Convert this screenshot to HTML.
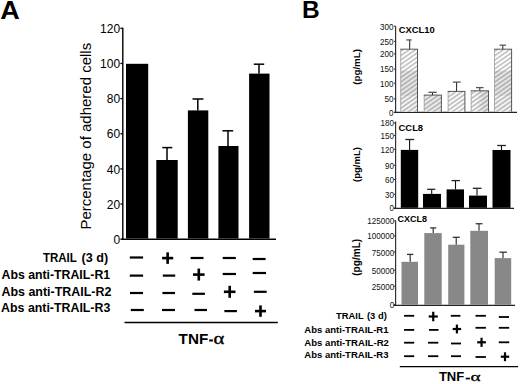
<!DOCTYPE html>
<html><head><meta charset="utf-8"><style>
html,body{margin:0;padding:0;background:#fff;}
svg{display:block;font-family:"Liberation Sans", sans-serif;}
</style></head><body>
<svg width="520" height="384" viewBox="0 0 520 384">
<defs><pattern id="hatch" patternUnits="userSpaceOnUse" width="3.6" height="3.6" patternTransform="rotate(55)"><line x1="1.8" y1="0" x2="1.8" y2="3.6" stroke="#505050" stroke-width="0.6"/></pattern><linearGradient id="g4" x1="0" x2="1" y1="0" y2="0"><stop offset="0.3" stop-color="#fafafa"/><stop offset="0.7" stop-color="#e4e4e4"/></linearGradient></defs>
<rect width="520" height="384" fill="#fff"/>
<line x1="122.8" y1="27.8" x2="122.8" y2="239.9" stroke="#000" stroke-width="1.4"/>
<line x1="120.4" y1="28.3" x2="122.8" y2="28.3" stroke="#000" stroke-width="1.3"/>
<line x1="120.4" y1="63.45" x2="122.8" y2="63.45" stroke="#000" stroke-width="1.3"/>
<line x1="120.4" y1="98.6" x2="122.8" y2="98.6" stroke="#000" stroke-width="1.3"/>
<line x1="120.4" y1="133.75" x2="122.8" y2="133.75" stroke="#000" stroke-width="1.3"/>
<line x1="120.4" y1="168.9" x2="122.8" y2="168.9" stroke="#000" stroke-width="1.3"/>
<line x1="120.4" y1="204.05" x2="122.8" y2="204.05" stroke="#000" stroke-width="1.3"/>
<line x1="120.4" y1="239.2" x2="122.8" y2="239.2" stroke="#000" stroke-width="1.3"/>
<line x1="121.5" y1="239.2" x2="276" y2="239.2" stroke="#000" stroke-width="1.4"/>
<rect x="126" y="63.8" width="22.2" height="174.7" fill="#000" />
<rect x="156.3" y="160" width="21.4" height="78.5" fill="#000" />
<line x1="167" y1="147.6" x2="167" y2="160" stroke="#000" stroke-width="1.5"/>
<line x1="162.3" y1="147.6" x2="172.3" y2="147.6" stroke="#000" stroke-width="1.5"/>
<rect x="187.9" y="110.4" width="20.4" height="128.1" fill="#000" />
<line x1="197.8" y1="99" x2="197.8" y2="110.4" stroke="#000" stroke-width="1.5"/>
<line x1="192.5" y1="99" x2="203.4" y2="99" stroke="#000" stroke-width="1.5"/>
<rect x="218.4" y="146" width="20.1" height="92.5" fill="#000" />
<line x1="228" y1="130.8" x2="228" y2="146" stroke="#000" stroke-width="1.5"/>
<line x1="222.4" y1="130.8" x2="233.2" y2="130.8" stroke="#000" stroke-width="1.5"/>
<rect x="249.1" y="73.6" width="20.4" height="164.9" fill="#000" />
<line x1="259" y1="64.2" x2="259" y2="73.6" stroke="#000" stroke-width="1.5"/>
<line x1="253.8" y1="64.2" x2="264.2" y2="64.2" stroke="#000" stroke-width="1.5"/>
<rect x="129.8" y="256.4" width="13.3" height="2.2" fill="#000" />
<rect x="162.1" y="256.8" width="11.1" height="2.6" fill="#000" />
<rect x="166.34999999999997" y="252.35000000000002" width="2.6" height="11.5" fill="#000" />
<rect x="190.6" y="256.9" width="12.9" height="2.2" fill="#000" />
<rect x="222.7" y="256.9" width="13.1" height="2.2" fill="#000" />
<rect x="252.7" y="257.9" width="12.9" height="2.2" fill="#000" />
<rect x="129.8" y="274.5" width="13.3" height="2.2" fill="#000" />
<rect x="162.8" y="274.5" width="12.4" height="2.2" fill="#000" />
<rect x="193" y="273.3" width="11.6" height="2.6" fill="#000" />
<rect x="197.5" y="268.6" width="2.6" height="12.0" fill="#000" />
<rect x="222.7" y="272.9" width="13.3" height="2.2" fill="#000" />
<rect x="252.7" y="271.9" width="13.3" height="2.2" fill="#000" />
<rect x="130" y="291.9" width="13" height="2.2" fill="#000" />
<rect x="162.4" y="291.9" width="12.6" height="2.2" fill="#000" />
<rect x="192.3" y="292.7" width="12.6" height="2.2" fill="#000" />
<rect x="223.9" y="290.5" width="11.6" height="2.6" fill="#000" />
<rect x="228.39999999999998" y="285.8" width="2.6" height="12.0" fill="#000" />
<rect x="253.9" y="290.7" width="12.8" height="2.2" fill="#000" />
<rect x="130.8" y="308.9" width="13.0" height="2.2" fill="#000" />
<rect x="162" y="308.9" width="13" height="2.2" fill="#000" />
<rect x="194.5" y="308.9" width="12.5" height="2.2" fill="#000" />
<rect x="224.4" y="310.0" width="12.5" height="2.2" fill="#000" />
<rect x="255" y="309.8" width="11" height="2.6" fill="#000" />
<rect x="259.2" y="305.40000000000003" width="2.6" height="11.4" fill="#000" />
<line x1="124.5" y1="322.5" x2="277.8" y2="322.5" stroke="#000" stroke-width="1.4"/>
<line x1="395.6" y1="26.2" x2="395.6" y2="112.6" stroke="#333" stroke-width="1.2"/>
<line x1="393.9" y1="26.2" x2="395.6" y2="26.2" stroke="#333" stroke-width="1.1"/>
<line x1="393.9" y1="41.4" x2="395.6" y2="41.4" stroke="#333" stroke-width="1.1"/>
<line x1="393.9" y1="53.9" x2="395.6" y2="53.9" stroke="#333" stroke-width="1.1"/>
<line x1="393.9" y1="69.1" x2="395.6" y2="69.1" stroke="#333" stroke-width="1.1"/>
<line x1="393.9" y1="83.2" x2="395.6" y2="83.2" stroke="#333" stroke-width="1.1"/>
<line x1="393.9" y1="98.8" x2="395.6" y2="98.8" stroke="#333" stroke-width="1.1"/>
<line x1="393.9" y1="112.39999999999999" x2="395.6" y2="112.39999999999999" stroke="#333" stroke-width="1.1"/>
<line x1="394" y1="112.3" x2="517" y2="112.3" stroke="#222" stroke-width="1.2"/>
<line x1="409.7" y1="39.9" x2="409.7" y2="49.2" stroke="#222" stroke-width="1.0"/>
<line x1="406.3" y1="39.9" x2="411.7" y2="39.9" stroke="#555" stroke-width="1.3"/>
<rect x="400.7" y="49.2" width="16.8" height="21.4" fill="#fff" />
<rect x="400.7" y="70.6" width="16.8" height="25.4" fill="#e6e6e6" />
<rect x="400.7" y="96" width="16.8" height="15.7" fill="#f4f4f4" />
<rect x="400.7" y="49.2" width="16.8" height="62.5" fill="url(#hatch)" />
<line x1="400.7" y1="49.2" x2="400.7" y2="111.7" stroke="#999" stroke-width="0.8"/>
<line x1="400.3" y1="49.2" x2="417.9" y2="49.2" stroke="#444" stroke-width="0.9"/>
<line x1="417.5" y1="49.2" x2="417.5" y2="111.7" stroke="#444" stroke-width="0.9"/>
<line x1="432.5" y1="92.3" x2="432.5" y2="95.1" stroke="#222" stroke-width="1.0"/>
<line x1="428.4" y1="92.3" x2="436.7" y2="92.3" stroke="#555" stroke-width="1.3"/>
<rect x="424.2" y="95.1" width="17.2" height="16.6" fill="#ebebeb" />
<rect x="424.2" y="95.1" width="17.2" height="16.6" fill="url(#hatch)" />
<line x1="424.2" y1="95.1" x2="424.2" y2="111.7" stroke="#999" stroke-width="0.8"/>
<line x1="423.8" y1="95.1" x2="441.79999999999995" y2="95.1" stroke="#444" stroke-width="0.9"/>
<line x1="441.4" y1="95.1" x2="441.4" y2="111.7" stroke="#444" stroke-width="0.9"/>
<line x1="456.6" y1="82.1" x2="456.6" y2="91.4" stroke="#222" stroke-width="1.0"/>
<line x1="452.9" y1="82.1" x2="460.6" y2="82.1" stroke="#555" stroke-width="1.3"/>
<rect x="448.1" y="91.4" width="16.8" height="20.3" fill="#fbfbfb" />
<rect x="448.1" y="91.4" width="16.8" height="20.3" fill="url(#hatch)" />
<line x1="448.1" y1="91.4" x2="448.1" y2="111.7" stroke="#999" stroke-width="0.8"/>
<line x1="447.70000000000005" y1="91.4" x2="465.29999999999995" y2="91.4" stroke="#444" stroke-width="0.9"/>
<line x1="464.9" y1="91.4" x2="464.9" y2="111.7" stroke="#444" stroke-width="0.9"/>
<line x1="479.8" y1="87.6" x2="479.8" y2="90.8" stroke="#222" stroke-width="1.0"/>
<line x1="476" y1="87.6" x2="483.6" y2="87.6" stroke="#555" stroke-width="1.3"/>
<rect x="471.2" y="90.8" width="17.3" height="20.9" fill="url(#g4)" />
<rect x="471.2" y="90.8" width="17.3" height="20.9" fill="url(#hatch)" />
<line x1="471.2" y1="90.8" x2="471.2" y2="111.7" stroke="#999" stroke-width="0.8"/>
<line x1="470.8" y1="90.8" x2="488.9" y2="90.8" stroke="#444" stroke-width="0.9"/>
<line x1="488.5" y1="90.8" x2="488.5" y2="111.7" stroke="#444" stroke-width="0.9"/>
<line x1="502.8" y1="45.2" x2="502.8" y2="49.2" stroke="#222" stroke-width="1.0"/>
<line x1="499.6" y1="45.2" x2="506" y2="45.2" stroke="#555" stroke-width="1.3"/>
<rect x="494.5" y="49.2" width="17.1" height="21.4" fill="#fff" />
<rect x="494.5" y="70.6" width="17.1" height="25.4" fill="#e6e6e6" />
<rect x="494.5" y="96" width="17.1" height="15.7" fill="#f4f4f4" />
<rect x="494.5" y="49.2" width="17.1" height="62.5" fill="url(#hatch)" />
<line x1="494.5" y1="49.2" x2="494.5" y2="111.7" stroke="#999" stroke-width="0.8"/>
<line x1="494.1" y1="49.2" x2="512.0" y2="49.2" stroke="#444" stroke-width="0.9"/>
<line x1="511.6" y1="49.2" x2="511.6" y2="111.7" stroke="#444" stroke-width="0.9"/>
<line x1="395.6" y1="121.5" x2="395.6" y2="208.4" stroke="#333" stroke-width="1.2"/>
<line x1="393.9" y1="123.0" x2="395.6" y2="123.0" stroke="#333" stroke-width="1.1"/>
<line x1="393.9" y1="135.4" x2="395.6" y2="135.4" stroke="#333" stroke-width="1.1"/>
<line x1="393.9" y1="149.20000000000002" x2="395.6" y2="149.20000000000002" stroke="#333" stroke-width="1.1"/>
<line x1="393.9" y1="165.20000000000002" x2="395.6" y2="165.20000000000002" stroke="#333" stroke-width="1.1"/>
<line x1="393.9" y1="179.5" x2="395.6" y2="179.5" stroke="#333" stroke-width="1.1"/>
<line x1="393.9" y1="194.3" x2="395.6" y2="194.3" stroke="#333" stroke-width="1.1"/>
<line x1="393.9" y1="208.10000000000002" x2="395.6" y2="208.10000000000002" stroke="#333" stroke-width="1.1"/>
<line x1="394" y1="208.4" x2="514" y2="208.4" stroke="#222" stroke-width="1.2"/>
<rect x="400.8" y="149.9" width="17.4" height="57.9" fill="#000" />
<line x1="409.6" y1="139.5" x2="409.6" y2="149.9" stroke="#111" stroke-width="1.1"/>
<line x1="405.3" y1="139.5" x2="414.2" y2="139.5" stroke="#222" stroke-width="1.3"/>
<rect x="423" y="193.9" width="18" height="13.9" fill="#000" />
<line x1="431.7" y1="189.3" x2="431.7" y2="193.9" stroke="#111" stroke-width="1.1"/>
<line x1="427.2" y1="189.3" x2="435.3" y2="189.3" stroke="#222" stroke-width="1.3"/>
<rect x="446.6" y="189.4" width="17.4" height="18.4" fill="#000" />
<line x1="455.5" y1="180.6" x2="455.5" y2="189.4" stroke="#111" stroke-width="1.1"/>
<line x1="451.5" y1="180.6" x2="460" y2="180.6" stroke="#222" stroke-width="1.3"/>
<rect x="469" y="195.6" width="18" height="12.2" fill="#000" />
<line x1="477" y1="188.3" x2="477" y2="195.6" stroke="#111" stroke-width="1.1"/>
<line x1="472.8" y1="188.3" x2="481.5" y2="188.3" stroke="#222" stroke-width="1.3"/>
<rect x="492.5" y="150" width="18.0" height="57.8" fill="#000" />
<line x1="501.5" y1="145.5" x2="501.5" y2="150" stroke="#111" stroke-width="1.1"/>
<line x1="497.2" y1="145.5" x2="505.9" y2="145.5" stroke="#222" stroke-width="1.3"/>
<line x1="395.6" y1="220.5" x2="395.6" y2="305.3" stroke="#333" stroke-width="1.2"/>
<line x1="393.9" y1="220.9" x2="395.6" y2="220.9" stroke="#333" stroke-width="1.1"/>
<line x1="393.9" y1="235.79999999999998" x2="395.6" y2="235.79999999999998" stroke="#333" stroke-width="1.1"/>
<line x1="393.9" y1="252.0" x2="395.6" y2="252.0" stroke="#333" stroke-width="1.1"/>
<line x1="393.9" y1="270.20000000000005" x2="395.6" y2="270.20000000000005" stroke="#333" stroke-width="1.1"/>
<line x1="393.9" y1="286.20000000000005" x2="395.6" y2="286.20000000000005" stroke="#333" stroke-width="1.1"/>
<line x1="393.9" y1="304.6" x2="395.6" y2="304.6" stroke="#333" stroke-width="1.1"/>
<line x1="394" y1="305.3" x2="515" y2="305.3" stroke="#222" stroke-width="1.2"/>
<rect x="401.5" y="261.8" width="16.5" height="43.0" fill="#888" />
<line x1="410.2" y1="254.4" x2="410.2" y2="261.8" stroke="#222" stroke-width="1.1"/>
<line x1="407" y1="254.4" x2="413.3" y2="254.4" stroke="#333" stroke-width="1.3"/>
<rect x="424.3" y="233.1" width="17.4" height="71.7" fill="#888" />
<line x1="433.2" y1="227.9" x2="433.2" y2="233.1" stroke="#222" stroke-width="1.1"/>
<line x1="430.2" y1="227.9" x2="436.2" y2="227.9" stroke="#333" stroke-width="1.3"/>
<rect x="448.2" y="244.7" width="16.2" height="60.1" fill="#888" />
<line x1="456.2" y1="237.3" x2="456.2" y2="244.7" stroke="#222" stroke-width="1.1"/>
<line x1="452.8" y1="237.3" x2="459.8" y2="237.3" stroke="#333" stroke-width="1.3"/>
<rect x="470.3" y="230.8" width="17.7" height="74.0" fill="#888" />
<line x1="479" y1="223.75" x2="479" y2="230.8" stroke="#222" stroke-width="1.1"/>
<line x1="475.6" y1="223.75" x2="482.5" y2="223.75" stroke="#333" stroke-width="1.3"/>
<rect x="494.7" y="258.1" width="16.5" height="46.7" fill="#888" />
<line x1="503" y1="252.2" x2="503" y2="258.1" stroke="#222" stroke-width="1.1"/>
<line x1="499.4" y1="252.2" x2="506.9" y2="252.2" stroke="#333" stroke-width="1.3"/>
<rect x="404.1" y="314.90000000000003" width="10.1" height="1.8" fill="#000" />
<rect x="428.7" y="315.4" width="9.1" height="2.2" fill="#000" />
<rect x="432.15" y="311.75" width="2.2" height="9.5" fill="#000" />
<rect x="450.8" y="314.90000000000003" width="9.6" height="1.8" fill="#000" />
<rect x="475.5" y="314.90000000000003" width="10.4" height="1.8" fill="#000" />
<rect x="498.8" y="316.1" width="10.2" height="1.8" fill="#000" />
<rect x="404.1" y="329.0" width="10.1" height="1.8" fill="#000" />
<rect x="429" y="329.0" width="9.5" height="1.8" fill="#000" />
<rect x="452.7" y="327.9" width="8.4" height="2.2" fill="#000" />
<rect x="455.79999999999995" y="324.59999999999997" width="2.2" height="8.8" fill="#000" />
<rect x="475.5" y="326.90000000000003" width="10.4" height="1.8" fill="#000" />
<rect x="498.8" y="326.90000000000003" width="10.4" height="1.8" fill="#000" />
<rect x="404.1" y="341.8" width="10.1" height="1.8" fill="#000" />
<rect x="428" y="341.8" width="10.3" height="1.8" fill="#000" />
<rect x="451" y="342.6" width="10" height="1.8" fill="#000" />
<rect x="477.2" y="341.2" width="8.7" height="2.2" fill="#000" />
<rect x="480.44999999999993" y="337.75" width="2.2" height="9.1" fill="#000" />
<rect x="498.8" y="341.40000000000003" width="10.4" height="1.8" fill="#000" />
<rect x="404.1" y="355.3" width="10.1" height="1.8" fill="#000" />
<rect x="428" y="355.3" width="10.3" height="1.8" fill="#000" />
<rect x="451" y="355.3" width="10" height="1.8" fill="#000" />
<rect x="475.5" y="356.1" width="10.4" height="1.8" fill="#000" />
<rect x="500.8" y="355.59999999999997" width="8.4" height="2.2" fill="#000" />
<rect x="503.9" y="352.3" width="2.2" height="8.8" fill="#000" />
<line x1="399.8" y1="366.55" x2="518" y2="366.55" stroke="#000" stroke-width="1.15"/>
<rect x="209.2" y="339.4" width="3.7" height="2.1" fill="#000" />
<rect x="465.8" y="377.7" width="4.1" height="1.7" fill="#000" />
<text x="0" y="0" font-size="25" fill="#000" font-weight="bold" transform="translate(0.2,19.0) scale(1.08,1)">A</text>
<text x="120.1" y="33.05" font-size="12" fill="#000" text-anchor="end">120</text>
<text x="120.1" y="67.7" font-size="12" fill="#000" text-anchor="end">100</text>
<text x="120.1" y="103.3" font-size="12" fill="#000" text-anchor="end">80</text>
<text x="120.1" y="138.4" font-size="12" fill="#000" text-anchor="end">60</text>
<text x="120.1" y="173.9" font-size="12" fill="#000" text-anchor="end">40</text>
<text x="120.1" y="208.8" font-size="12" fill="#000" text-anchor="end">20</text>
<text x="120.1" y="243.9" font-size="12" fill="#000" text-anchor="end">0</text>
<text x="0" y="0" font-size="15.0" fill="#000" transform="translate(90.6,229.6) rotate(-90)">Percentage of adhered cells</text>
<text x="42.9" y="262.1" font-size="12.2" fill="#000" font-weight="bold" textLength="34.0" lengthAdjust="spacingAndGlyphs">TRAIL</text>
<text x="81.6" y="262.1" font-size="12.2" fill="#000" font-weight="bold" textLength="26.6" lengthAdjust="spacingAndGlyphs">(3 d)</text>
<text x="1.5" y="279.1" font-size="12.3" fill="#000" font-weight="bold" textLength="108.6" lengthAdjust="spacingAndGlyphs">Abs anti-TRAIL-R1</text>
<text x="1.5" y="295.7" font-size="12.3" fill="#000" font-weight="bold" textLength="109.8" lengthAdjust="spacingAndGlyphs">Abs anti-TRAIL-R2</text>
<text x="1.1" y="312.4" font-size="12.3" fill="#000" font-weight="bold" textLength="109.2" lengthAdjust="spacingAndGlyphs">Abs anti-TRAIL-R3</text>
<text x="178.6" y="344.0" font-size="15.4" fill="#000" font-weight="bold" textLength="29.6" lengthAdjust="spacingAndGlyphs">TNF</text>
<text x="0" y="0" font-size="16.5" fill="#000" font-family='"Liberation Serif", serif' stroke="#000" stroke-width="0.35" transform="translate(213.6,344.4) scale(1.25,1)">&#945;</text>
<text x="301.9" y="18.4" font-size="24.5" fill="#000" font-weight="bold">B</text>
<text x="0" y="0" font-size="8.8" fill="#111" text-anchor="end" transform="translate(393.6,29.5) scale(0.92,1)">300</text>
<text x="0" y="0" font-size="8.8" fill="#111" text-anchor="end" transform="translate(393.6,44.7) scale(0.92,1)">250</text>
<text x="0" y="0" font-size="8.8" fill="#111" text-anchor="end" transform="translate(393.6,57.2) scale(0.92,1)">200</text>
<text x="0" y="0" font-size="8.8" fill="#111" text-anchor="end" transform="translate(393.6,72.4) scale(0.92,1)">150</text>
<text x="0" y="0" font-size="8.8" fill="#111" text-anchor="end" transform="translate(393.6,86.5) scale(0.92,1)">100</text>
<text x="0" y="0" font-size="8.8" fill="#111" text-anchor="end" transform="translate(393.6,102.1) scale(0.92,1)">50</text>
<text x="0" y="0" font-size="8.8" fill="#111" text-anchor="end" transform="translate(393.6,115.7) scale(0.92,1)">0</text>
<text x="0" y="0" font-size="8.8" fill="#111" text-anchor="end" transform="translate(393.9,126.3) scale(0.92,1)">180</text>
<text x="0" y="0" font-size="8.8" fill="#111" text-anchor="end" transform="translate(393.9,138.7) scale(0.92,1)">150</text>
<text x="0" y="0" font-size="8.8" fill="#111" text-anchor="end" transform="translate(393.9,152.5) scale(0.92,1)">120</text>
<text x="0" y="0" font-size="8.8" fill="#111" text-anchor="end" transform="translate(393.9,168.5) scale(0.92,1)">90</text>
<text x="0" y="0" font-size="8.8" fill="#111" text-anchor="end" transform="translate(393.9,182.8) scale(0.92,1)">60</text>
<text x="0" y="0" font-size="8.8" fill="#111" text-anchor="end" transform="translate(393.9,197.6) scale(0.92,1)">30</text>
<text x="0" y="0" font-size="8.8" fill="#111" text-anchor="end" transform="translate(393.9,211.4) scale(0.92,1)">0</text>
<text x="0" y="0" font-size="8.8" fill="#111" text-anchor="end" transform="translate(394.2,224.4) scale(0.92,1)">125000</text>
<text x="0" y="0" font-size="8.8" fill="#111" text-anchor="end" transform="translate(394.2,239.3) scale(0.92,1)">100000</text>
<text x="0" y="0" font-size="8.8" fill="#111" text-anchor="end" transform="translate(394.2,255.5) scale(0.92,1)">75000</text>
<text x="0" y="0" font-size="8.8" fill="#111" text-anchor="end" transform="translate(394.2,273.7) scale(0.92,1)">50000</text>
<text x="0" y="0" font-size="8.8" fill="#111" text-anchor="end" transform="translate(394.2,289.7) scale(0.92,1)">25000</text>
<text x="0" y="0" font-size="8.8" fill="#111" text-anchor="end" transform="translate(394.2,308.1) scale(0.92,1)">0</text>
<text x="398.7" y="32.9" font-size="9.0" fill="#000" font-weight="bold" textLength="36.0" lengthAdjust="spacingAndGlyphs">CXCL10</text>
<text x="398.6" y="131.4" font-size="9.4" fill="#000" font-weight="bold">CCL8</text>
<text x="397.5" y="222.0" font-size="8.6" fill="#000" font-weight="bold" textLength="29.6" lengthAdjust="spacingAndGlyphs">CXCL8</text>
<text x="0" y="0" font-size="9.8" fill="#000" font-weight="bold" transform="translate(359.5,84.85) rotate(-90)">(pg/mL)</text>
<text x="0" y="0" font-size="9.5" fill="#000" font-weight="bold" transform="translate(359.9,181.9) rotate(-90)">(pg/mL)</text>
<text x="0" y="0" font-size="10.1" fill="#000" font-weight="bold" transform="translate(360.3,275.8) rotate(-90)">(pg/mL)</text>
<text x="336.1" y="319.4" font-size="9.8" fill="#000" font-weight="bold" textLength="27.5" lengthAdjust="spacingAndGlyphs">TRAIL</text>
<text x="367.0" y="319.4" font-size="9.8" fill="#000" font-weight="bold" textLength="19.8" lengthAdjust="spacingAndGlyphs">(3 d)</text>
<text x="304.3" y="332.8" font-size="9.8" fill="#000" font-weight="bold" textLength="84.2" lengthAdjust="spacingAndGlyphs">Abs anti-TRAIL-R1</text>
<text x="304.3" y="345.6" font-size="9.8" fill="#000" font-weight="bold" textLength="84.6" lengthAdjust="spacingAndGlyphs">Abs anti-TRAIL-R2</text>
<text x="304.3" y="358.3" font-size="9.8" fill="#000" font-weight="bold" textLength="84.2" lengthAdjust="spacingAndGlyphs">Abs anti-TRAIL-R3</text>
<text x="438.9" y="381.2" font-size="12.4" fill="#000" font-weight="bold" textLength="25.4" lengthAdjust="spacingAndGlyphs">TNF</text>
<text x="0" y="0" font-size="13.5" fill="#000" font-family='"Liberation Serif", serif' stroke="#000" stroke-width="0.3" transform="translate(470.5,381.0) scale(1.42,1)">&#945;</text>
</svg>
</body></html>
